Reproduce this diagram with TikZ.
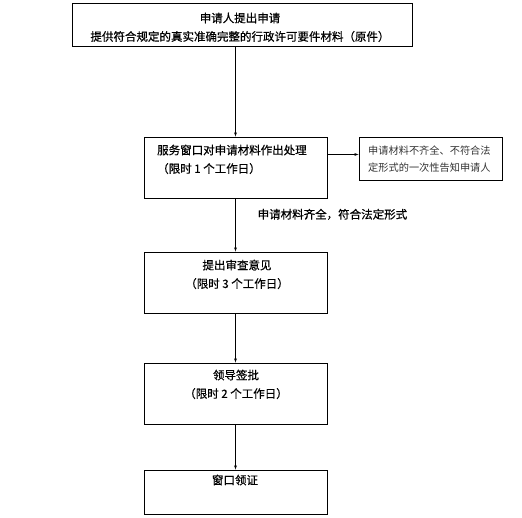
\documentclass[tikz,border=0pt]{standalone}
\usepackage{fontspec}
\newfontfamily\cjk[FakeBold=0.6]{Noto Sans CJK SC}
\newfontfamily\cjklight{Noto Sans CJK SC}
\begin{document}
\begin{tikzpicture}[x=1pt,y=-1pt,
  box/.style={draw, line width=0.8pt, inner sep=0pt, minimum width=183pt, minimum height=61pt},
  txt/.style={inner sep=0pt, align=center, anchor=north, font=\cjk\fontsize{11.5}{18.5}\selectfont},
  small/.style={inner sep=0pt, align=left, anchor=north west, text=black!80, font=\cjklight\fontsize{10.2}{17}\selectfont}]
\useasboundingbox (0,0) rectangle (522,518);
\node [box, minimum width=340pt, minimum height=43pt] (apply) at (242,24.5) {};
\node [box] (window) at (235.5,167.5) {};
\node [box, minimum width=143pt, minimum height=43pt] (notice) at (430.5,158.5) {};
\node [box] (review) at (235.5,282.5) {};
\node [box] (leader) at (235.5,393.5) {};
\node [box, minimum height=44pt] (collect) at (235.5,492) {};
\node [txt] (applytext) at (240,12.5) {申请人提出申请\\提供符合规定的真实准确完整的行政许可要件材料（原件）};
\node [txt, align=left, anchor=north west] (windowtext) at (157,144.5) {服务窗口对申请材料作出处理\\（限时 1 个工作日）};
\node [small] (noticetext) at (368,146) {申请材料不齐全、不符合法\\定形式的一次性告知申请人};
\node [txt] (reviewtext) at (237,259.5) {提出审查意见\\（限时 3 个工作日）};
\node [txt] (leadertext) at (236,369.5) {领导签批\\（限时 2 个工作日）};
\node [txt] (collecttext) at (235,474.5) {窗口领证};
\draw [-latex] (apply.south -| window.north) -- (window.north);
\draw [-latex] ([yshift=4pt]notice.west -| window.east) -- ([yshift=4pt]notice.west);
\draw [-latex] (window) -- (review) node [pos=0.3, right=22pt, txt, anchor=west] (oktext) {申请材料齐全，符合法定形式};
\draw [-latex] (review) -- (leader);
\draw [-latex] (leader) -- (collect);
\end{tikzpicture}
\end{document}
